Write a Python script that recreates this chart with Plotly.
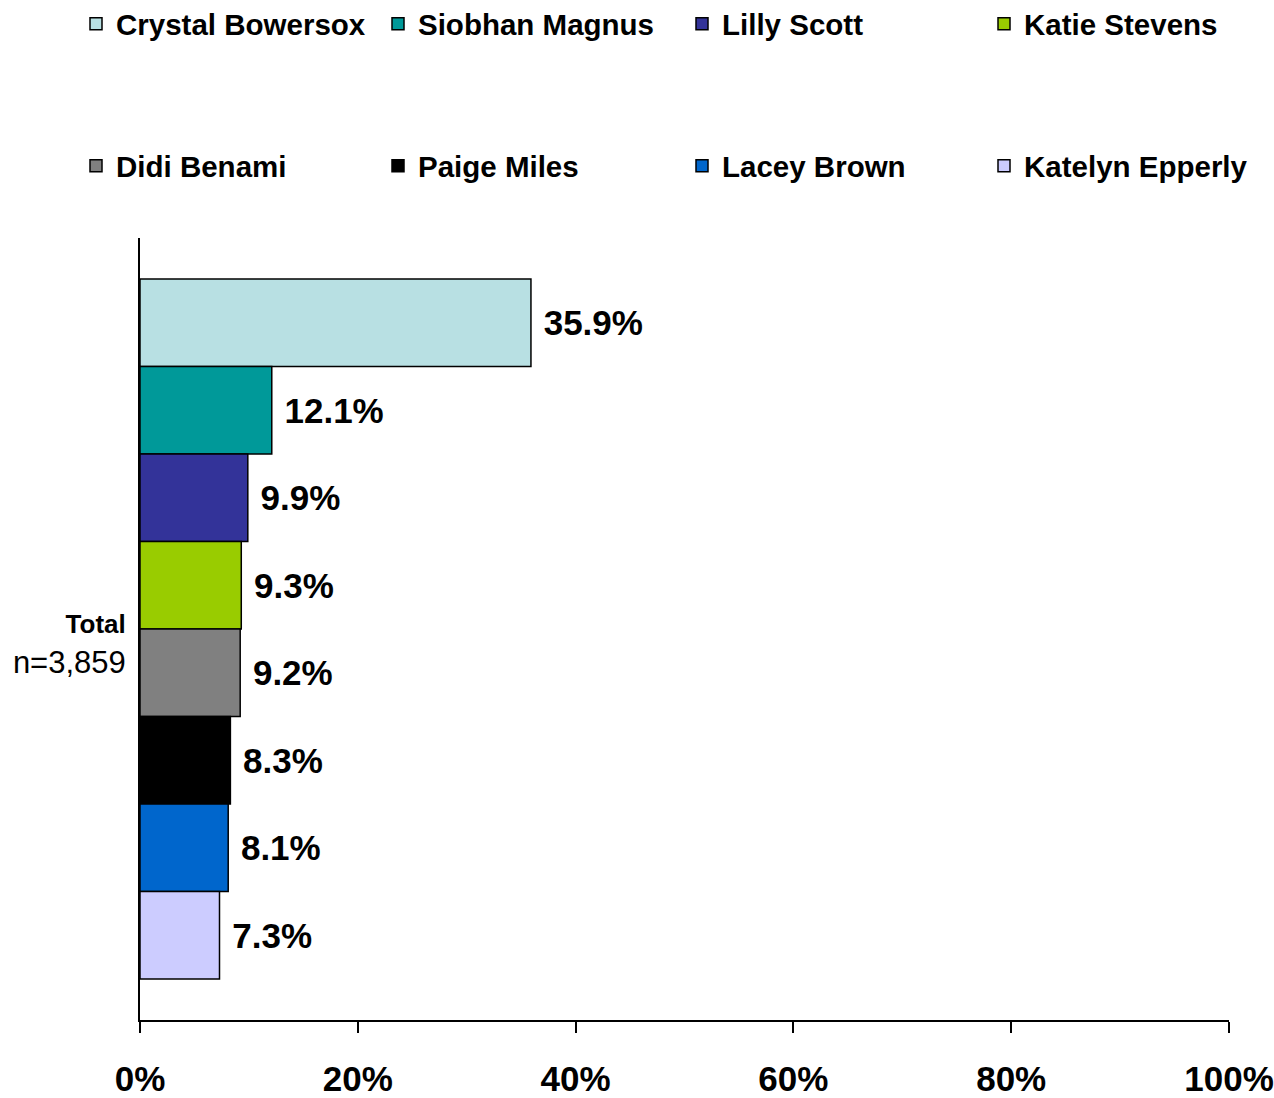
import plotly.graph_objects as go

names = ["Crystal Bowersox", "Siobhan Magnus", "Lilly Scott", "Katie Stevens",
         "Didi Benami", "Paige Miles", "Lacey Brown", "Katelyn Epperly"]
values = [35.9, 12.1, 9.9, 9.3, 9.2, 8.3, 8.1, 7.3]
colors = ["#B8E0E3", "#009999", "#333399", "#99CC00",
          "#808080", "#000000", "#0066CC", "#CCCCFF"]
category = ["<span style='font-size:26px'><b>Total</b></span><br>n=3,859"]
x_ticks = [0, 20, 40, 60, 80, 100]
x_ticklabels = ["0%", "20%", "40%", "60%", "80%", "100%"]

FONT = "Arial, Liberation Sans, sans-serif"

# legend slot positions (container px): column starts and row centres
legend_cols = [76, 378, 682, 984]
legend_rows = [24, 166]

fig = go.Figure()
legends = {}
for i, (n, v, c) in enumerate(zip(names, values, colors)):
    lname = "legend" if i == 0 else f"legend{i + 1}"
    fig.add_trace(go.Bar(
        name=n, y=category, x=[v], orientation="h",
        marker=dict(color=c, line=dict(color="black", width=1.5)),
        text=["\u00a0" + f"{v:.1f}%"], textposition="outside",
        textfont=dict(family=FONT, size=35, color="black", weight="bold"),
        cliponaxis=False, showlegend=True,
        legend=lname,
    ))
    legends[lname] = dict(
        visible=True,
        orientation="h", xref="container", yref="container",
        x=legend_cols[i % 4] / 1274, y=1 - legend_rows[i // 4] / 1098,
        xanchor="left", yanchor="middle",
        font=dict(family=FONT, size=29.5, color="black", weight="bold"),
        bgcolor="rgba(0,0,0,0)",
    )

fig.update_layout(
    width=1274, height=1098,
    showlegend=True,
    paper_bgcolor="white", plot_bgcolor="white",
    margin=dict(l=140, r=45, t=238, b=78),
    barmode="group", bargap=0.105,
    font=dict(family=FONT, color="black"),
    xaxis=dict(
        range=[0, 100], tickvals=x_ticks, ticktext=x_ticklabels,
        showline=True, linecolor="black", linewidth=2,
        ticks="outside", ticklen=11, tickwidth=2, tickcolor="black",
        showgrid=False, zeroline=False, automargin=False,
        tickfont=dict(family=FONT, size=35, color="black", weight="bold"),
        ticklabelstandoff=16,
    ),
    yaxis=dict(
        autorange="reversed", automargin=False,
        showline=True, linecolor="black", linewidth=2,
        showgrid=False, ticks="", zeroline=False,
        tickfont=dict(family=FONT, size=31, color="black"),
        ticklabelstandoff=6, ticklabelshift=-13,
    ),
    **legends,
)

fig.write_html("out.html", config={"displayModeBar": False},
               post_script="document.body.style.margin='0';document.body.style.padding='0';")
